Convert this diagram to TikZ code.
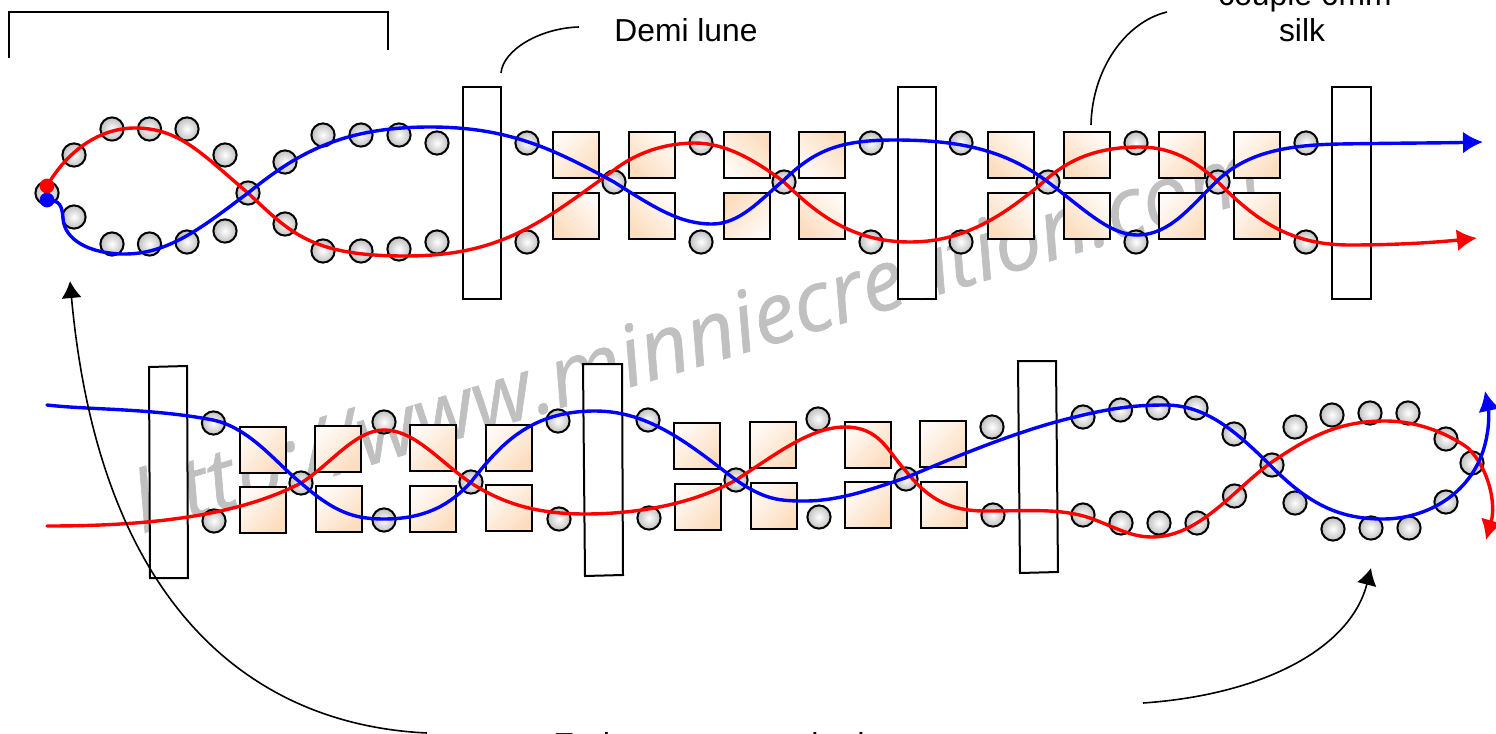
\documentclass[tikz,border=0pt]{standalone}
\usepackage{fontspec}
\setmainfont{Liberation Sans}
\newfontfamily\wmfont[FakeBold=0.8]{Open Sans}
\usetikzlibrary{arrows.meta}
\definecolor{peach}{HTML}{FCDDBE}
\definecolor{wmgrey}{HTML}{C0C0C0}
\tikzset{
 x=0.5pt,y=-0.5pt,
 bar/.style={draw=black,fill=white,line width=1pt,line join=miter},
 sq/.style={draw=black,line width=0.9pt,top color=peach!15,bottom color=peach,shading angle=#1},
 ball/.style={circle,draw=black,line width=1pt,inner sep=0pt,minimum size=11.6pt,shading=radial,inner color=white,outer color=black!25},
 redline/.style={draw=red,line width=1.7pt,line cap=round},
 blueline/.style={draw=blue,line width=1.7pt,line cap=round},
 leader/.style={draw=black,line width=0.8pt},
 label/.style={font=\fontsize{15.9}{18}\selectfont,anchor=base,inner sep=0pt},
 redarrow/.style={-{Latex[length=10pt,width=11pt]}},
 blackarrow/.style={-{Latex[length=8.5pt,width=10pt]}},
}
\begin{document}
\begin{tikzpicture}
\useasboundingbox (0,0) rectangle (1496,734);
\clip (0,0) rectangle (1496,734);
% watermark
\node[rotate=16.7,text=wmgrey,inner sep=0pt,font=\wmfont\itshape\fontsize{42}{44}\selectfont] (wm) at (698,344) {http://www.minniecreation.com};
% tall bars
\draw[bar] (463,87) rectangle (501,299);
\draw[bar] (898,87) rectangle (936,299);
\draw[bar] (1332,87) rectangle (1371,299);
\draw[bar] (149,367) -- (187,366) -- (188,578) -- (150,578) -- cycle;
\draw[bar] (583,364) -- (622,364) -- (623,575) -- (585,576) -- cycle;
\draw[bar] (1018,361) -- (1056,361) -- (1058,572) -- (1020,573) -- cycle;
% squares: x, y, shading angle
\foreach \x/\y/\a in {553/132/45,629/132/-45,724/132/135,799/132/135,
  553/193/-45,629/193/-45,724/193/-135,799/193/-45,
  988/132/-45,1064/132/-45,1159/132/45,1234/132/45,
  988/193/-45,1064/193/-45,1159/193/45,1234/193/45,
  240/427/45,315/426/45,410/425/45,486/425/45,
  240/487/45,316/486/45,410/486/45,486/485/45,
  674/423/45,750/422/45,845/422/45,920/421/45,
  675/484/45,751/483/45,845/482/45,921/482/45}
  \path[sq=\a] (\x,\y) rectangle ++(46,46);
% balls
\foreach \x/\y in {47/193,74/155,112/129,149.5/129,187/129,225/155,248/193,285/162,323/135,361/135,399/135,437/143,
  74/217,112/244,149.5/244,187/242,225/231,285/224,323/251,361/251,399/249,437/242,
  527/143,527/242,614/182,701/143,701/242,784/182,871/143,871/242,961/143,961/242,
  1048/182,1136/143,1136/242,1218/182,1306/143,1306/242,
  213.5/423,214/521,301/483,384/422,384/520,471/482,558/421,559/519,
  648/420,649/518,736/480,818/419,819/517,906/479,992/427,993/515,
  1083/417,1120.5/410,1158/408,1196/408,1234/434,1272/465,1234.5/496,
  1295/427,1332/415,1370/413,1408/413,1446/439,1472/463,1446/502,
  1083/515,1121/523,1159/523,1197/523,1295/503,1333/529,1371/528,1409/528}
  \node[ball] at (\x,\y) {};
% top threads
\draw[redline,redarrow] (47,186) .. controls (68,150) and (100,128) .. (135,128)
  .. controls (180,128) and (203,155) .. (248,193)
  .. controls (290,232) and (310,256) .. (405,256)
  .. controls (500,256) and (540,224) .. (614,170)
  .. controls (640,150) and (670,143) .. (695,143)
  .. controls (725,143) and (755,160) .. (784,182)
  .. controls (815,212) and (850,242) .. (910,242)
  .. controls (965,242) and (1005,215) .. (1048,178)
  .. controls (1075,155) and (1105,147) .. (1140,147)
  .. controls (1170,147) and (1195,160) .. (1218,182)
  .. controls (1260,225) and (1295,245) .. (1350,245)
  .. controls (1400,245) and (1440,242) .. (1477,238);
\draw[blueline,redarrow] (47,200) .. controls (60,200) and (62,206) .. (63,218)
  .. controls (64,240) and (90,254) .. (125,254)
  .. controls (170,254) and (205,225) .. (248,193)
  .. controls (295,155) and (340,127) .. (430,127)
  .. controls (510,127) and (555,150) .. (614,182)
  .. controls (655,208) and (680,224) .. (712,224)
  .. controls (740,224) and (760,200) .. (784,180)
  .. controls (815,150) and (840,140) .. (895,140)
  .. controls (960,140) and (1005,150) .. (1048,182)
  .. controls (1085,210) and (1110,235) .. (1137,235)
  .. controls (1170,235) and (1190,207) .. (1218,180)
  .. controls (1245,155) and (1280,145) .. (1340,144)
  .. controls (1400,143) and (1440,143) .. (1483,142);
\fill[red] (47,186) circle (3.7pt);
\fill[blue] (47,200) circle (3.7pt);
% bottom threads
\draw[redline,redarrow] (47,526) .. controls (130,526) and (230,520) .. (301,483)
  .. controls (330,465) and (355,430) .. (384,430)
  .. controls (415,430) and (440,462) .. (471,483)
  .. controls (505,505) and (540,514) .. (585,514)
  .. controls (640,514) and (695,503) .. (736,480)
  .. controls (775,455) and (810,427) .. (845,427)
  .. controls (880,427) and (888,452) .. (905,470)
  .. controls (925,495) and (945,511) .. (985,511)
  .. controls (1030,511) and (1060,508) .. (1090,518)
  .. controls (1115,527) and (1130,537) .. (1152,537)
  .. controls (1200,537) and (1235,488) .. (1272,462)
  .. controls (1310,436) and (1340,421) .. (1385,421)
  .. controls (1420,421) and (1450,435) .. (1468,448)
  .. controls (1490,470) and (1496,505) .. (1486,540);
\draw[blueline,redarrow] (47,405) .. controls (90,410) and (150,408) .. (213,420)
  .. controls (250,428) and (275,462) .. (301,483)
  .. controls (335,513) and (355,519) .. (384,519)
  .. controls (425,519) and (450,505) .. (471,482)
  .. controls (500,445) and (530,411) .. (595,411)
  .. controls (650,411) and (690,445) .. (736,480)
  .. controls (765,500) and (780,501) .. (805,501)
  .. controls (840,501) and (875,488) .. (905,478)
  .. controls (960,455) and (1020,430) .. (1075,417)
  .. controls (1115,407) and (1140,405) .. (1165,405)
  .. controls (1205,405) and (1235,430) .. (1272,467)
  .. controls (1310,505) and (1340,519) .. (1383,519)
  .. controls (1430,519) and (1478,490) .. (1487,435)
  .. controls (1490,420) and (1488,405) .. (1485,391);
% leaders and arrows
\draw[leader] (9,58) -- (9,12) -- (388,12) -- (388,50);
\coordinate (dl) at (579,27);
\coordinate (ba) at (501,73);
\draw[leader] (ba) .. controls (503,50) and (540,28) .. (dl);
\coordinate (cs) at (1167,12);
\coordinate (sq) at (1091,125);
\draw[leader] (sq) .. controls (1092,70) and (1125,22) .. (cs);
\coordinate (b1) at (427,733);
\coordinate (t1) at (70,281);
\draw[leader,blackarrow] (b1) .. controls (255,725) and (100,610) .. (t1);
\coordinate (b2) at (1143,703);
\coordinate (t2) at (1371,568);
\draw[leader,blackarrow] (b2) .. controls (1260,695) and (1350,650) .. (t2);
% labels
\node[label] (demi) at (686,41) {Demi lune};
\node[label] (silk) at (1302,41) {silk};
\node[label] (couple) at (1305,5) {couple 6mm};
\node[label,anchor=base west] (etape) at (553,755) {Ends are not attached};
\end{tikzpicture}
\end{document}
